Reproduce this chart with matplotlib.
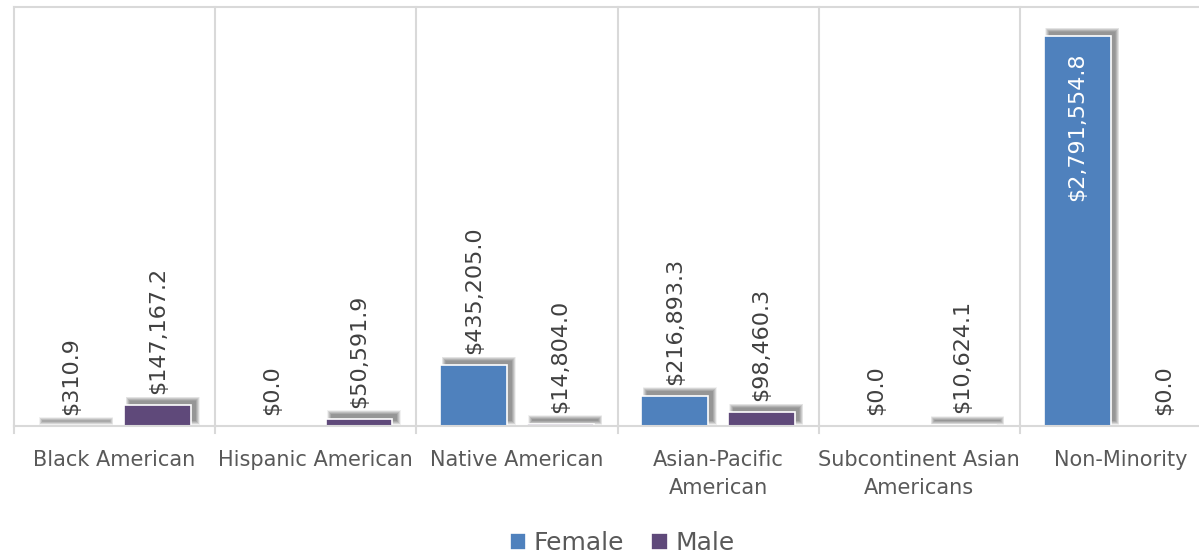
import matplotlib
matplotlib.use("Agg")
import matplotlib.pyplot as plt
from matplotlib.patches import Rectangle
import numpy as np

categories = ["Black American", "Hispanic American", "Native American",
              "Asian-Pacific\nAmerican", "Subcontinent Asian\nAmericans", "Non-Minority"]
female = [310.9, 0.0, 435205.0, 216893.3, 0.0, 2791554.8]
male = [147167.2, 50591.9, 14804.0, 98460.3, 10624.1, 0.0]
series = [("Female", female, "#4F81BD"), ("Male", male, "#5F497A")]

plt.rcParams['font.family'] = ['DejaVu Sans']

W, H = 1199, 555
fig = plt.figure(figsize=(W / 100, H / 100), dpi=100)
ax = fig.add_axes([14 / W, 129 / H, 1207 / W, 419 / H])

ymax = 3000000
ax.set_xlim(-0.5, len(categories) - 0.5)
ax.set_ylim(0, ymax)

# pixel size in data units, used for the soft shadows
xpp = len(categories) / 1207
ypp = ymax / 419

grid_c = "#D9D9D9"
x = np.arange(len(categories))
bw = 0.333
offs = [-0.215, 0.215]

for (name, vals, col), off in zip(series, offs):
    for xi, v in zip(x, vals):
        if v <= 0:
            continue
        # blurred shadow, shifted up and right
        for k in np.arange(4.5, 0, -0.5):
            ax.add_patch(Rectangle((xi + off - bw / 2 + (6 - k) * xpp, (6 - k) * ypp),
                                   bw + 2 * (k - 1) * xpp, v + 2 * (k - 1) * ypp,
                                   facecolor="black", edgecolor="none",
                                   alpha=0.055, zorder=1))
    ax.bar(x + off, vals, width=bw, color=col, edgecolor="white", linewidth=1.2,
           label=name, zorder=2)
    for xi, v in zip(x, vals):
        txt = "${:,.1f}".format(v)
        if v > ymax * 0.8:
            ax.annotate(txt, (xi + off, v), xytext=(0, -12), textcoords="offset points",
                        rotation=90, ha="center", va="top", fontsize=16, color="white",
                        zorder=3)
        else:
            ax.annotate(txt, (xi + off, v), xytext=(0, 8), textcoords="offset points",
                        rotation=90, ha="center", va="bottom", fontsize=16,
                        color="#404040", zorder=3)

# category separators
for b in np.arange(-0.5, len(categories), 1.0):
    ax.plot([b, b], [0, 1], transform=ax.get_xaxis_transform(), color=grid_c,
            linewidth=1.5, zorder=0, clip_on=False)
    ax.plot([b, b], [0, -7 / 419], transform=ax.get_xaxis_transform(), color=grid_c,
            linewidth=1.5, zorder=0, clip_on=False)

for s in ["left", "right"]:
    ax.spines[s].set_visible(False)
for s in ["top", "bottom"]:
    ax.spines[s].set_color(grid_c)
    ax.spines[s].set_linewidth(1.5)

ax.set_yticks([])
ax.set_xticks(x)
ax.set_xticklabels(categories, fontsize=15, color="#595959", linespacing=1.55)
ax.tick_params(axis="x", length=0, pad=17)

ax.legend(loc="center", bbox_to_anchor=(622 / W, 12 / H), bbox_transform=fig.transFigure,
          ncol=2, frameon=False, fontsize=18, handlelength=0.65, handleheight=0.65,
          handletextpad=0.3, columnspacing=1.1, labelcolor="#595959")

fig.savefig("out.png", dpi=100)
